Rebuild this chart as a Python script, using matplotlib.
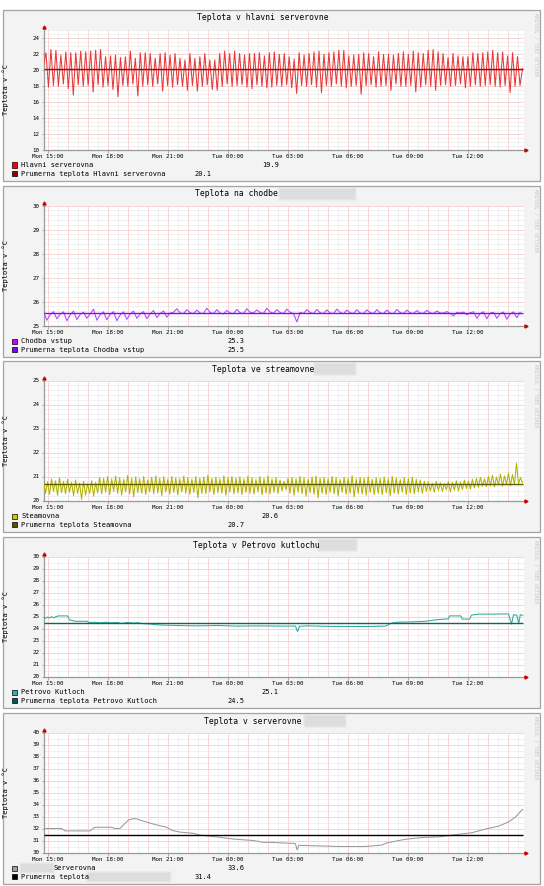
import numpy as np
import matplotlib
matplotlib.use('Agg')
import matplotlib.pyplot as plt
from matplotlib.patches import Rectangle

plt.rcParams['font.family'] = ['DejaVu Sans Mono', 'DejaVu Sans']

W, H = 544, 886

# =====================================================================
# DATA  (time in hours since Mon 00:00)
# =====================================================================
T_START, T_END = 14.8, 38.8
XTICK_POS = [15, 18, 21, 24, 27, 30, 33, 36]
XTICK_LABELS = ['Mon 15:00', 'Mon 18:00', 'Mon 21:00', 'Tue 00:00',
                'Tue 03:00', 'Tue 06:00', 'Tue 09:00', 'Tue 12:00']

# Hlavni serverovna: peaks and troughs of the fast cycle
hlavni_high = [22.1, 22.5, 22.4, 21.8, 22.2, 22.1, 22.1, 22.3, 22.2, 22.3, 22.4, 22.5,
               21.6, 21.7, 21.8, 21.5, 21.6, 22.3, 21.4, 22.1, 22.1, 22.0, 21.4, 22.0,
               22.1, 21.8, 22.0, 21.4, 21.2, 22.0, 21.4, 21.6, 22.0, 21.2, 21.2, 22.0,
               22.3, 22.0, 22.3, 22.0, 21.8, 22.0, 22.0, 22.1, 21.7, 22.1,
               22.2, 21.9, 22.0, 21.6, 21.3, 22.1, 21.8, 22.0, 22.2, 22.3, 21.9, 22.1,
               22.2, 22.4, 22.4, 21.7, 21.8, 21.9, 22.1, 22.0, 21.6, 22.2, 21.9, 21.9,
               21.8, 22.0, 22.2, 21.9, 22.3, 22.1, 22.0, 22.4, 22.5, 22.2, 22.0, 21.5,
               22.0, 21.7, 21.6, 21.6, 22.1, 22.0, 22.1, 22.2, 22.4, 22.1, 22.2, 21.7,
               22.1, 21.6]
hlavni_low = [17.8, 18.0, 17.9, 18.2, 17.6, 16.8, 18.1, 17.9, 18.0, 17.2, 18.1, 17.8,
              18.0, 17.5, 16.6, 18.0, 17.9, 18.2, 16.7, 17.9, 18.1, 17.9, 18.2, 17.3,
              18.0, 17.8, 18.1, 17.9, 17.4, 18.0, 17.3, 17.9, 18.1, 17.5, 17.4, 17.9,
              18.2, 17.9, 18.0, 18.1, 17.8, 17.6, 18.1, 17.9, 17.7, 17.8,
              18.0, 17.9, 18.1, 17.7, 17.0, 18.0, 17.9, 18.1, 17.8, 17.1, 18.0, 17.9,
              18.2, 17.9, 17.7, 17.9, 18.0, 16.9, 18.0, 18.1, 17.8, 17.9, 18.0, 17.4,
              18.2, 17.9, 17.9, 18.0, 17.2, 17.8, 18.1, 17.9, 17.4, 18.0, 18.1, 17.9,
              18.0, 18.2, 17.7, 17.9, 18.1, 17.9, 18.0, 18.1, 17.9, 17.8, 18.0, 17.1,
              17.9, 18.0]
hlavni_first, hlavni_last = 20.5, 20.1

# Chodba vstup: one value every 10 minutes
chodba = [25.57, 25.22, 25.45, 25.58, 25.28, 25.47, 25.57, 25.20, 25.44, 25.60, 25.25, 25.46,
          25.56, 25.30, 25.48, 25.68, 25.22, 25.45, 25.57, 25.24, 25.46, 25.58, 25.20, 25.44,
          25.57, 25.26, 25.47, 25.60, 25.30, 25.48, 25.58, 25.28, 25.49, 25.62, 25.33, 25.50,
          25.60, 25.35, 25.52, 25.55, 25.70, 25.52, 25.50, 25.66, 25.53, 25.50, 25.64, 25.52,
          25.50, 25.72, 25.54, 25.50, 25.66, 25.52, 25.48, 25.63, 25.52, 25.50, 25.67, 25.53,
          25.50, 25.70, 25.55, 25.52, 25.65, 25.54, 25.50, 25.72, 25.56, 25.51, 25.66, 25.54,
          25.50, 25.68, 25.55, 25.50, 25.15, 25.55, 25.50, 25.66, 25.54, 25.50, 25.67, 25.53,
          25.50, 25.65, 25.52, 25.50, 25.68, 25.55, 25.49, 25.64, 25.53, 25.50, 25.66, 25.52,
          25.50, 25.65, 25.54, 25.50, 25.66, 25.53, 25.50, 25.64, 25.52, 25.50, 25.67, 25.54,
          25.50, 25.64, 25.53, 25.50, 25.62, 25.52, 25.51, 25.63, 25.53, 25.50, 25.60, 25.52,
          25.52, 25.58, 25.50, 25.40, 25.55, 25.52, 25.56, 25.45, 25.53, 25.57, 25.30, 25.50,
          25.57, 25.28, 25.52, 25.55, 25.30, 25.50, 25.56, 25.26, 25.48, 25.57, 25.32, 25.55]

# Steamovna: highs and lows of the noisy band
steam_high = [20.85, 20.78, 20.90, 20.82, 20.95, 20.80, 20.88, 20.76, 20.86, 20.72, 20.80, 20.70,
              20.82, 20.75, 20.96, 20.92, 21.00, 20.90, 21.02, 20.95, 20.88, 21.05, 20.93, 20.98,
              20.90, 21.00, 20.86, 20.97, 21.03, 20.92, 20.99, 20.88, 21.00, 20.94, 20.90, 21.02,
              20.95, 20.89, 21.00, 20.93, 20.98, 21.06, 20.92, 20.97, 20.90, 21.03, 20.95, 21.00,
              20.93, 20.98, 20.90, 21.01, 20.95, 20.88, 20.99, 20.92, 21.02, 20.90, 20.96, 20.85,
              20.80, 20.92, 20.97, 20.90, 21.00, 20.94, 20.89, 20.98, 21.02, 20.93, 20.96, 20.90,
              21.00, 20.95, 20.88, 20.97, 20.92, 21.03, 20.90, 20.96, 20.93, 20.99, 20.88, 20.95,
              20.92, 20.98, 20.90, 21.00, 20.94, 20.87, 20.96, 20.91, 20.97, 20.89, 20.85, 20.80,
              20.78, 20.72, 20.80, 20.74, 20.70, 20.78, 20.75, 20.82, 20.76, 20.85, 20.80, 20.88,
              20.92, 20.96, 20.90, 21.00, 21.05, 20.98, 21.10, 21.02, 21.15, 21.08, 21.55, 20.95]
steam_low = [20.30, 20.25, 20.38, 20.22, 20.32, 20.28, 20.35, 20.20, 20.30, 20.05, 20.22, 20.30,
             20.18, 20.32, 20.28, 20.35, 20.25, 20.38, 20.30, 20.22, 20.36, 20.28, 20.15, 20.33,
             20.30, 20.25, 20.37, 20.28, 20.32, 20.20, 20.35, 20.27, 20.33, 20.24, 20.36, 20.30,
             20.26, 20.34, 20.12, 20.30, 20.28, 20.36, 20.25, 20.33, 20.30, 20.22, 20.35, 20.28,
             20.32, 20.25, 20.34, 20.30, 20.27, 20.36, 20.24, 20.31, 20.28, 20.35, 20.30, 20.40,
             20.45, 20.30, 20.22, 20.35, 20.28, 20.18, 20.33, 20.26, 20.12, 20.30, 20.25, 20.34,
             20.28, 20.20, 20.35, 20.26, 20.31, 20.15, 20.30, 20.27, 20.22, 20.34, 20.25, 20.30,
             20.24, 20.33, 20.20, 20.30, 20.27, 20.35, 20.25, 20.32, 20.28, 20.36, 20.30, 20.38,
             20.40, 20.35, 20.42, 20.38, 20.45, 20.36, 20.43, 20.40, 20.46, 20.50, 20.48, 20.52,
             20.55, 20.60, 20.58, 20.62, 20.57, 20.65, 20.60, 20.68, 20.62, 20.66, 20.70, 20.75]

# Petrovo Kutloch: breakpoints (hour, value)
petr_t = [14.8, 14.9, 15.0, 15.1, 15.2, 15.3, 15.45, 15.55, 16.0, 16.1,
          16.4, 17.0, 17.05, 17.4, 17.6, 17.9, 18.2, 18.5, 18.7, 19.0,
          19.3, 19.5, 19.8, 20.1, 20.4, 20.8, 21.5, 22.5, 23.5, 24.5,
          25.5, 26.5, 27.4, 27.5, 27.6, 28.0, 29.0, 30.0, 31.0, 31.9,
          32.2, 32.55, 33.2, 33.9, 34.55, 35.05, 35.1, 35.67, 35.74, 36.1,
          36.2, 36.55, 37.3, 38.05, 38.2, 38.3, 38.47, 38.56, 38.64, 38.76]
petr_v = [24.92, 24.85, 24.95, 24.88, 24.98, 24.90, 25.0, 25.05, 25.05, 24.72,
          24.6, 24.6, 24.5, 24.52, 24.47, 24.52, 24.48, 24.5, 24.42, 24.5,
          24.45, 24.48, 24.4, 24.38, 24.32, 24.28, 24.25, 24.22, 24.25, 24.2,
          24.22, 24.2, 24.2, 23.75, 24.18, 24.22, 24.18, 24.17, 24.17, 24.2,
          24.45, 24.53, 24.55, 24.6, 24.75, 24.8, 25.05, 25.05, 24.78, 24.78,
          25.12, 25.2, 25.2, 25.22, 24.37, 25.15, 25.1, 24.4, 25.15, 25.1]

# Serverovna: breakpoints (hour, value)
serv_t = [14.8, 15.71, 15.87, 17.12, 17.37, 18.2, 18.37, 18.62, 18.8, 19.04,
          19.29, 19.46, 19.79, 20.12, 20.46, 20.96, 21.21, 21.62, 22.29, 22.62,
          23.46, 24.29, 25.29, 25.79, 26.22, 27.39, 27.48, 27.56, 28.56, 29.56,
          30.89, 31.72, 31.97, 32.89, 33.72, 34.56, 35.47, 36.22, 36.89, 37.56,
          38.06, 38.39, 38.76]
serv_v = [32.0, 32.0, 31.8, 31.8, 32.1, 32.1, 32.0, 32.0, 32.3, 32.7,
          32.82, 32.8, 32.62, 32.45, 32.3, 32.1, 31.85, 31.7, 31.6, 31.45,
          31.3, 31.12, 31.0, 30.85, 30.84, 30.75, 30.22, 30.6, 30.55, 30.5,
          30.5, 30.62, 30.8, 31.1, 31.25, 31.3, 31.5, 31.65, 31.95, 32.2,
          32.55, 32.95, 33.6]

AVERAGES = [20.07, 25.54, 20.67, 24.46, 31.43]

TITLES = ['Teplota v hlavni serverovne', 'Teplota na chodbe', 'Teplota ve streamovne',
          'Teplota v Petrovo kutlochu', 'Teplota v serverovne']
LEGEND_NAMES = [['Hlavni serverovna', 'Prumerna teplota Hlavni serverovna'],
                ['Chodba vstup', 'Prumerna teplota Chodba vstup'],
                ['Steamovna', 'Prumerna teplota Steamovna'],
                ['Petrovo Kutloch', 'Prumerna teplota Petrovo Kutloch'],
                ['Serverovna', 'Prumerna teplota']]
LEGEND_VALUES = [['19.9', '20.1'], ['25.3', '25.5'], ['20.6', '20.7'],
                 ['25.1', '24.5'], ['33.6', '31.4']]
Y_LIMITS = [(10, 25), (25, 30), (20, 25), (20, 30), (30, 40)]
Y_LABEL_STEP = [2, 1, 1, 1, 1]
Y_MINOR_STEP = [0.5, 0.2, 0.2, 0.5, 0.5]


def fx(x):
    return x / W


def fy(y):
    return 1 - y / H


def interleave(a, b):
    out = []
    for hi, lo in zip(a, b):
        out += [hi, lo]
    return out


# =====================================================================
# SERIES
# =====================================================================
v1 = [hlavni_first] + interleave(hlavni_high, hlavni_low) + [hlavni_last]
t1 = np.linspace(T_START, T_END - 0.05, len(v1))
t2 = T_START + np.arange(len(chodba)) / 6.0
v3 = interleave(steam_high, steam_low)
t3 = np.linspace(T_START, T_END - 0.05, len(v3))

SERIES = [(t1, v1), (t2, chodba), (t3, v3), (petr_t, petr_v), (serv_t, serv_v)]
LINE_COLORS = ['#e63a3a', '#bb44ff', '#b3b300', '#2eaa9a', '#9a9a9a']
AVG_COLORS = ['#b00000', '#7a10f0', '#5c5c00', '#006a66', '#000000']
SWATCH_COLORS = [['#ff0000', '#990000'], ['#cc00ff', '#7f00ff'], ['#cccc00', '#555500'],
                 ['#33b3a6', '#005a55'], ['#a0a0a0', '#000000']]

# layout (pixels, top-left origin)
PLOT_TOPS = [29.5, 205.5, 380.5, 556.5, 732.5]
PLOT_BOTTOMS = [149.5, 325.5, 500.5, 676.5, 852.5]
TITLE_X = [197, 195, 211.7, 192.7, 204.3]
VALUE_X = [[261.7, 194.3], [227.7, 227.7], [261.7, 227.7], [261.7, 227.7], [227.7, 194.3]]
TITLE_BLUR = [None, (280, 355), (315, 355), (319, 356), (305, 345)]

fig = plt.figure(figsize=(W / 100, H / 100), dpi=100)
fig.patch.set_facecolor('white')


def blur_box(x0, x1, yc, h=10):
    for k, a in enumerate([0.25, 0.35, 0.6]):
        g = 2 - k
        fig.patches.append(Rectangle((fx(x0 - g), fy(yc + h / 2 + g)), (x1 - x0 + 2 * g) / W,
                                     (h + 2 * g) / H, transform=fig.transFigure,
                                     facecolor='#d8d8d8', edgecolor='none', alpha=a, zorder=3))


def swatch(x, yc, color):
    fig.patches.append(Rectangle((fx(x), fy(yc + 2.7)), 5.4 / W, 5.4 / H,
                                 transform=fig.transFigure, facecolor=color,
                                 edgecolor='#000000', lw=0.5, zorder=3))


for i in range(5):
    pt, pb = PLOT_TOPS[i], PLOT_BOTTOMS[i]
    by0, by1 = pt - 19.5, pb + 31

    # panel frame
    fig.patches.append(Rectangle((fx(3), fy(by1)), 537 / W, (by1 - by0) / H,
                                 transform=fig.transFigure, facecolor='#f3f3f3',
                                 edgecolor='#a3a3a3', lw=0.9, zorder=-2))

    ax = fig.add_axes([fx(43.5), fy(pb), 480 / W, (pb - pt) / H])
    ax.set_facecolor('white')
    lo, hi = Y_LIMITS[i]
    ax.set_xlim(T_START, T_END)
    ax.set_ylim(lo, hi)

    # grid
    for m in np.arange(15.5, T_END, 1.0):
        ax.axvline(m, color='#ececec', lw=0.5, zorder=0)
    for m in np.arange(lo, hi + 1e-6, Y_MINOR_STEP[i]):
        ax.axhline(m, color='#ececec', lw=0.5, zorder=0)
    for m in range(15, 39):
        ax.axvline(m, color='#f9d0d0', lw=0.6, zorder=0.5)
    for m in np.arange(lo, hi + 1e-6, Y_LABEL_STEP[i]):
        ax.axhline(m, color='#f9d0d0', lw=0.6, zorder=0.5)

    t, v = SERIES[i]
    ax.plot(t, v, color=LINE_COLORS[i], lw=0.75, zorder=3)
    ax.hlines(AVERAGES[i], T_START, T_END - 0.05, color=AVG_COLORS[i], lw=1.0, zorder=4)

    for s in ['top', 'right']:
        ax.spines[s].set_visible(False)
    for s in ['left', 'bottom']:
        ax.spines[s].set_color('#9a9a9a')
        ax.spines[s].set_linewidth(0.9)
    ax.plot([0], [1.025], marker='^', color='#cc0000', ms=2.2, transform=ax.transAxes,
            clip_on=False, zorder=5)
    ax.plot([1.006], [0], marker='>', color='#cc0000', ms=2.2, transform=ax.transAxes,
            clip_on=False, zorder=5)

    ax.set_xticks(XTICK_POS)
    ax.set_xticklabels(XTICK_LABELS)
    yt = np.arange(lo, hi + 1e-6, Y_LABEL_STEP[i])
    ax.set_yticks(yt)
    ax.set_yticklabels([str(int(y)) for y in yt])
    ax.tick_params(axis='both', labelsize=4.2, length=1.8, width=0.6, color='#9a9a9a', pad=1.2)

    ax.set_ylabel('Teplota v °C', fontsize=5.0)
    ax.yaxis.set_label_coords((9.3 - 43.5) / 480, 0.5)

    # title + watermark
    fig.text(fx(TITLE_X[i]), fy(pt - 11.5), TITLES[i], fontsize=5.75, ha='left', va='center')
    if TITLE_BLUR[i]:
        blur_box(TITLE_BLUR[i][0], TITLE_BLUR[i][1], pt - 11.5)
    fig.text(fx(536), fy(by0 + 3), 'RRDTOOL / TOBI OETIKER', rotation=270, ha='center',
             va='top', fontsize=3.5, color='#c6c6c6')

    # legend
    for r in range(2):
        yc = pb + 15.7 + r * 8.4
        swatch(12, yc, SWATCH_COLORS[i][r])
        name_x = 21
        if i == 4 and r == 0:
            blur_box(21, 53, yc, h=8)
            name_x = 53.5
        fig.text(fx(name_x), fy(yc), LEGEND_NAMES[i][r], fontsize=5.0, ha='left', va='center')
        if i == 4 and r == 1:
            blur_box(88, 170, yc, h=8)
        fig.text(fx(VALUE_X[i][r]), fy(yc), LEGEND_VALUES[i][r], fontsize=5.0,
                 ha='left', va='center')

fig.savefig('out.png', dpi=100)
